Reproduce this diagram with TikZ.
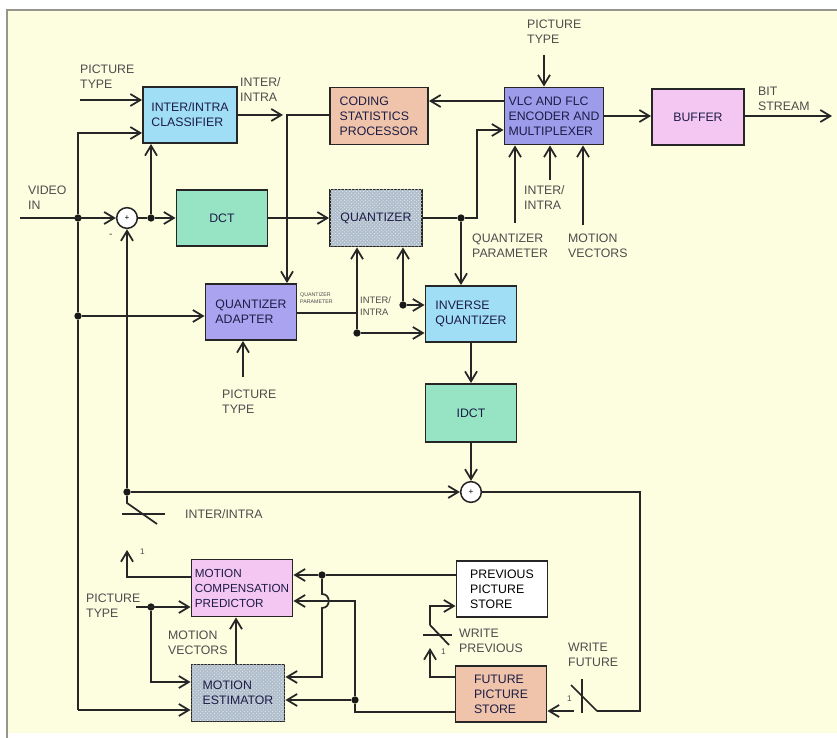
\documentclass[tikz,border=0pt]{standalone}
\usepackage{fontspec}
\setmainfont{Liberation Sans}
\usetikzlibrary{arrows.meta,patterns}

\definecolor{paper}{RGB}{253,253,224}
\definecolor{framegray}{RGB}{150,150,140}
\definecolor{boxtext}{RGB}{28,28,70}
\definecolor{clsblue}{RGB}{160,222,245}
\definecolor{salmonbox}{RGB}{240,196,170}
\definecolor{vlcblue}{RGB}{156,156,234}
\definecolor{lilacbox}{RGB}{244,198,242}
\definecolor{mintbox}{RGB}{150,228,196}
\definecolor{slatebox}{RGB}{176,190,204}
\definecolor{adaptbox}{RGB}{170,164,240}

\tikzset{
  blk/.style={draw=black!85, line width=1.6pt, minimum width=2.73cm,
    minimum height=1.68cm, align=left, inner sep=1pt, text=boxtext,
    font=\fontsize{10.5}{12.8}\selectfont},
  hatched/.style={fill=slatebox,
    postaction={pattern=crosshatch dots, pattern color=white!70!slatebox}},
  sumnode/.style={circle, draw=black!85, line width=1.3pt, fill=white,
    minimum size=0.62cm, inner sep=0pt, font=\scriptsize},
  jdot/.style={circle, fill=black!90, inner sep=0pt, minimum size=0.22cm},
  lbl/.style={anchor=west, align=left, inner sep=0pt, text=black!70,
    font=\fontsize{10.5}{12.8}\selectfont},
  wire/.style={line width=1.5pt, draw=black!85},
}

\begin{document}
\begin{tikzpicture}[x=0.03cm, y=-0.03cm, >={Straight Barb[length=3mm,width=3.6mm]}]
    % panel
    \useasboundingbox (0,0) rectangle (837,738);
    \fill[paper] (7,10) rectangle (837,733);
    \draw[framegray, line width=1.4pt] (7,738) -- (7,10) -- (837,10);

    % blocks
    \node[blk, fill=clsblue, minimum width=2.82cm] (cls) at (190,115) {INTER/INTRA\\CLASSIFIER};
    \node[blk, fill=salmonbox, minimum width=2.94cm, minimum height=1.71cm] (csp) at (379,116) {CODING\\STATISTICS\\PROCESSOR};
    \node[blk, fill=vlcblue, minimum width=2.97cm, minimum height=1.71cm] (vlc) at (554,116) {VLC AND FLC\\ENCODER AND\\MULTIPLEXER};
    \node[blk, fill=lilacbox, minimum width=2.76cm] (buf) at (698,117) {BUFFER};
    \node[blk, fill=mintbox] (dct) at (222,218) {DCT};
    \node[blk, hatched, minimum width=2.76cm, minimum height=1.71cm] (qnt) at (376,218) {QUANTIZER};
    \node[blk, fill=adaptbox] (qad) at (251,312) {QUANTIZER\\ADAPTER};
    \node[blk, fill=clsblue] (iqt) at (471,314) {INVERSE\\QUANTIZER};
    \node[blk, fill=mintbox, minimum height=1.74cm] (idct) at (471,413) {IDCT};
    \node[blk, fill=lilacbox, minimum width=3.03cm, minimum height=1.71cm,
      font=\fontsize{10}{12.8}\selectfont] (mcp) at (242,588) {MOTION\\COMPENSATION\\PREDICTOR};
    \node[blk, hatched, minimum width=2.79cm, minimum height=1.71cm] (mest) at (238,693) {MOTION\\ESTIMATOR};
    \node[blk, fill=white, text=black] (pps) at (502,589) {PREVIOUS\\PICTURE\\STORE};
    \node[blk, fill=salmonbox] (fps) at (501,694) {FUTURE\\PICTURE\\STORE};

    % adders
    \node[sumnode] (sum1) at (127,218) {+};
    \node[sumnode] (sum2) at (471,492) {+};

    % junctions
    \node[jdot] (jv) at (78,218) {};
    \node[jdot] (ja) at (151,218) {};
    \node[jdot] (jad) at (78,316) {};
    \node[jdot] (jqo) at (461,218) {};
    \node[jdot] (jqp) at (357,333) {};
    \node[jdot] (jii) at (403,305) {};
    \node[jdot] (jsw) at (127,492) {};
    \node[jdot] (jpp) at (322,575) {};
    \node[jdot] (jfp) at (355,700) {};
    \node[jdot] (jpt) at (151,607) {};

    % free ends
    \coordinate (vin) at (20,218);
    \coordinate (pt-in) at (80,100);
    \coordinate (ii-out) at (283,115);
    \coordinate (ptv-in) at (544,55);
    \coordinate (qpv-in) at (515,223);
    \coordinate (iiv-in) at (550,180);
    \coordinate (mvv-in) at (583,225);
    \coordinate (bs-out) at (832,116);
    \coordinate (ptq-in) at (243,377);
    \coordinate (ptm-in) at (136,607);
    \coordinate (sw-tip) at (127,550);
    \coordinate (wp-tip) at (430,648);
    \coordinate (wp-pole) at (430,625);
    \coordinate (wf-pole) at (597,711);
    \coordinate (wf-c) at (574,711);

    % labels
    \node[lbl] (pt-cls) at (80,77) {PICTURE\\TYPE};
    \node[lbl] (ii-cls) at (240,90) {INTER/\\INTRA};
    \node[lbl] (vin-lbl) at (28,198) {VIDEO\\IN};
    \node[lbl] (pt-vlc) at (527,32) {PICTURE\\TYPE};
    \node[lbl] (bs-lbl) at (758,99) {BIT\\STREAM};
    \node[lbl] (ii-vlc) at (524,198) {INTER/\\INTRA};
    \node[lbl] (qp-vlc) at (472,246) {QUANTIZER\\PARAMETER};
    \node[lbl] (mv-vlc) at (568,246) {MOTION\\VECTORS};
    \node[lbl, font=\fontsize{4.5}{6}\selectfont] (qp-qad) at (300,298) {QUANTIZER\\PARAMETER};
    \node[lbl, font=\fontsize{8}{10}\selectfont] (ii-qnt) at (360,306) {INTER/\\INTRA};
    \node[lbl] (pt-qad) at (222,402) {PICTURE\\TYPE};
    \node[lbl] (sw-lbl) at (185,514) {INTER/INTRA};
    \node[lbl, font=\scriptsize] (one-a) at (140,552) {1};
    \node[lbl] (pt-mcp) at (86,606) {PICTURE\\TYPE};
    \node[lbl] (mv-lbl) at (168,643) {MOTION\\VECTORS};
    \node[lbl] (wp-lbl) at (459,641) {WRITE\\PREVIOUS};
    \node[lbl, font=\scriptsize] (one-b) at (441,652) {1};
    \node[lbl] (wf-lbl) at (568,655) {WRITE\\FUTURE};
    \node[lbl, font=\scriptsize] (one-c) at (567,699) {1};
    \node[lbl, font=\small] (minus) at (109,236) {-};

    % forward path
    \draw[wire, ->] (vin) -- (sum1);
    \draw[wire] (sum1) -- (ja);
    \draw[wire, ->] (ja) -- (dct);
    \draw[wire, ->] (ja) -- (ja |- cls.south);
    \draw[wire, ->] (jv) |- (cls.west |- 0,133);
    \draw[wire, ->] (pt-in) -- (cls.west |- pt-in);
    \draw[wire, ->] (cls.east) -- (ii-out);
    \draw[wire, ->] (csp.west |- 0,115) -| (qad.north -| 287,0);
    \draw[wire, ->] (vlc.west |- 0,101) -- (csp.east |- 0,101);
    \draw[wire, ->] (dct.east) -- (qnt.west |- dct.east);
    \draw[wire] (qnt) -- (jqo);
    \draw[wire, ->] (jqo) -- (477,218) |- (vlc.west |- 0,130);
    \draw[wire, ->] (jqo) -- (iqt.north -| jqo);
    \draw[wire, ->] (ptv-in) -- (vlc.north -| ptv-in);
    \draw[wire, ->] (qpv-in) -- (vlc.south -| qpv-in);
    \draw[wire, ->] (iiv-in) -- (vlc.south -| iiv-in);
    \draw[wire, ->] (mvv-in) -- (vlc.south -| mvv-in);
    \draw[wire, ->] (vlc.east) -- (buf.west |- vlc.east);
    \draw[wire, ->] (buf.east |- bs-out) -- (bs-out);

    % quantizer control
    \draw[wire] (jv) -- (jad);
    \draw[wire, ->] (jad) -- (qad.west |- jad);
    \draw[wire, ->] (ptq-in) -- (qad.south -| ptq-in);
    \draw[wire] (qad.east |- 0,313) -- (357,313);
    \draw[wire, ->] (jqp) -- (qnt.south -| jqp);
    \draw[wire, ->] (jqp) -- (iqt.west |- jqp);
    \draw[wire, ->] (jii) -- (qnt.south -| jii);
    \draw[wire, ->] (jii) -- (iqt.west |- jii);

    % reconstruction
    \draw[wire, ->] (iqt) -- (idct);
    \draw[wire, ->] (idct) -- (sum2);
    \draw[wire, ->] (jsw) -- (sum1);
    \draw[wire, ->] (jsw) -- (sum2);
    \draw[wire] (sum2) -- (640,492) |- (wf-pole);

    % inter/intra switch
    \draw[wire] (jsw) -- (127,503) -- (157,524);
    \draw[wire] (122,514) -- (165,514);
    \draw[wire, ->] (mcp.west |- 0,577) -| (sw-tip);

    % write future switch
    \draw[wire] (wf-pole) -- (571,685);
    \draw[wire] (582,679) -- (582,713);
    \draw[wire, ->] (wf-c) -- (fps.east |- wf-c);

    % write previous switch
    \draw[wire, ->] (fps.west |- 0,677) -| (wp-tip);
    \draw[wire] (wp-pole) -- (449,645);
    \draw[wire] (423,635) -- (452,635);
    \draw[wire, ->] (wp-pole) |- (pps.west |- 0,606);

    % picture stores to prediction
    \draw[wire] (pps.west |- jpp) -- (jpp);
    \draw[wire, ->] (jpp) -- (mcp.east |- jpp);
    \draw[wire, ->] (jpp) -- (322,594) .. controls (331,594) and (331,608) .. (322,608) |- (mest.east |- 0,677);
    \draw[wire] (fps.west |- 0,712) -| (jfp);
    \draw[wire, ->] (jfp) |- (mcp.east |- 0,601);
    \draw[wire, ->] (jfp) -- (mest.east |- jfp);

    % motion estimation
    \draw[wire] (jad) -- (78,710);
    \draw[wire, ->] (78,710) -- (mest.west |- 0,710);
    \draw[wire, ->] (ptm-in) -- (mcp.west |- ptm-in);
    \draw[wire, ->] (jpt) |- (mest.west |- 0,682);
    \draw[wire, ->] (mest.north -| 236,0) -- (mcp.south -| 236,0);
\end{tikzpicture}
\end{document}
